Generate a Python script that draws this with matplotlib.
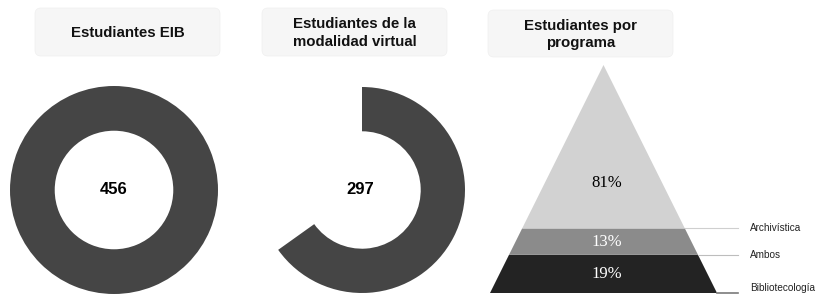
import numpy as np
import matplotlib.pyplot as plt
from matplotlib.patches import FancyBboxPatch

# data
total_eib = 456
virtual = 297
programas = ['Archivística', 'Ambos', 'Bibliotecología']
porcentajes = [81, 13, 19]
titulos = ['Estudiantes EIB', 'Estudiantes de la\nmodalidad virtual', 'Estudiantes por\nprograma']

W, H = 816, 294
fig = plt.figure(figsize=(W / 100, H / 100), dpi=100)

def px_axes(x0, y0, x1, y1, **kw):
	return fig.add_axes([x0 / W, 1 - y1 / H, (x1 - x0) / W, (y1 - y0) / H], **kw)

#=======================================================================
# title boxes
#=======================================================================
bg = px_axes(0, 0, W, H)
bg.set_xlim(0, W)
bg.set_ylim(H, 0)
bg.axis('off')
boxes = [(35, 8, 220, 56), (262, 8, 447, 56), (488, 10, 673, 57)]
for (x0, y0, x1, y1), t in zip(boxes, titulos):
	bg.add_patch(FancyBboxPatch((x0, y0), x1 - x0, y1 - y0,
		boxstyle='round,pad=0,rounding_size=6', fc='#f6f6f6', ec='#efefef', lw=0.5))
	bg.text((x0 + x1) / 2, (y0 + y1) / 2 + 1, t, ha='center', va='center',
		fontsize=10.8, fontweight='bold', family='Liberation Sans', color='#111111',
		linespacing=1.3)

#=======================================================================
# donuts
#=======================================================================
dark = '#454545'
ring = 0.43

ax1 = px_axes(10, 86, 218, 294)
ax1.pie([total_eib], colors=[dark], wedgeprops=dict(width=ring, linewidth=0))
ax1.set_xlim(-1, 1)
ax1.set_ylim(-1, 1)
ax1.text(0, 0, str(total_eib), ha='center', va='center', fontsize=12,
	fontweight='bold', family='Liberation Sans', color='black')

ax2 = px_axes(259, 86, 465, 294)
ax2.pie([virtual, total_eib - virtual], colors=[dark, 'none'], startangle=90,
	counterclock=False, wedgeprops=dict(width=ring, linewidth=0))
ax2.set_xlim(-1, 1)
ax2.set_ylim(-1, 1)
ax2.text(-0.02, 0, str(virtual), ha='center', va='center', fontsize=12,
	fontweight='bold', family='Liberation Sans', color='black')

#=======================================================================
# pyramid
#=======================================================================
ax3 = px_axes(490, 65, 717, 293)
ax3.axis('off')
total = sum(porcentajes)
ax3.set_xlim(-1, 1)
ax3.set_ylim(0, total)
colores = ['#d2d2d2', '#8b8b8b', '#232323']
txtcol = ['black', 'white', 'white']
linecol = ['#cfcfcf', '#bdbdbd', '#7a7a7a']
labfrac = [0.28, 0.5, 0.5]
laboff = [0, 0, 2.5]
lo = 0
for i in reversed(range(len(porcentajes))):
	hi = lo + porcentajes[i]
	w_lo = 1 - lo / total
	w_hi = 1 - hi / total
	ax3.fill([-w_lo, w_lo, w_hi, -w_hi], [lo, lo, hi, hi], color=colores[i], lw=0)
	ax3.text(0.03, lo + (hi - lo) * labfrac[i], '%d%%' % porcentajes[i],
		ha='center', va='center', fontsize=12, family='Liberation Serif', color=txtcol[i])
	ax3.plot([w_lo, 1.185], [lo, lo], color=linecol[i], lw=0.8 if i < 2 else 1.2,
		clip_on=False)
	ax3.text(1.29, lo + laboff[i], programas[i], ha='left', va='center', fontsize=7.2,
		family='Liberation Sans', color='#222222', clip_on=False)
	lo = hi

fig.savefig('out.png', dpi=100)
